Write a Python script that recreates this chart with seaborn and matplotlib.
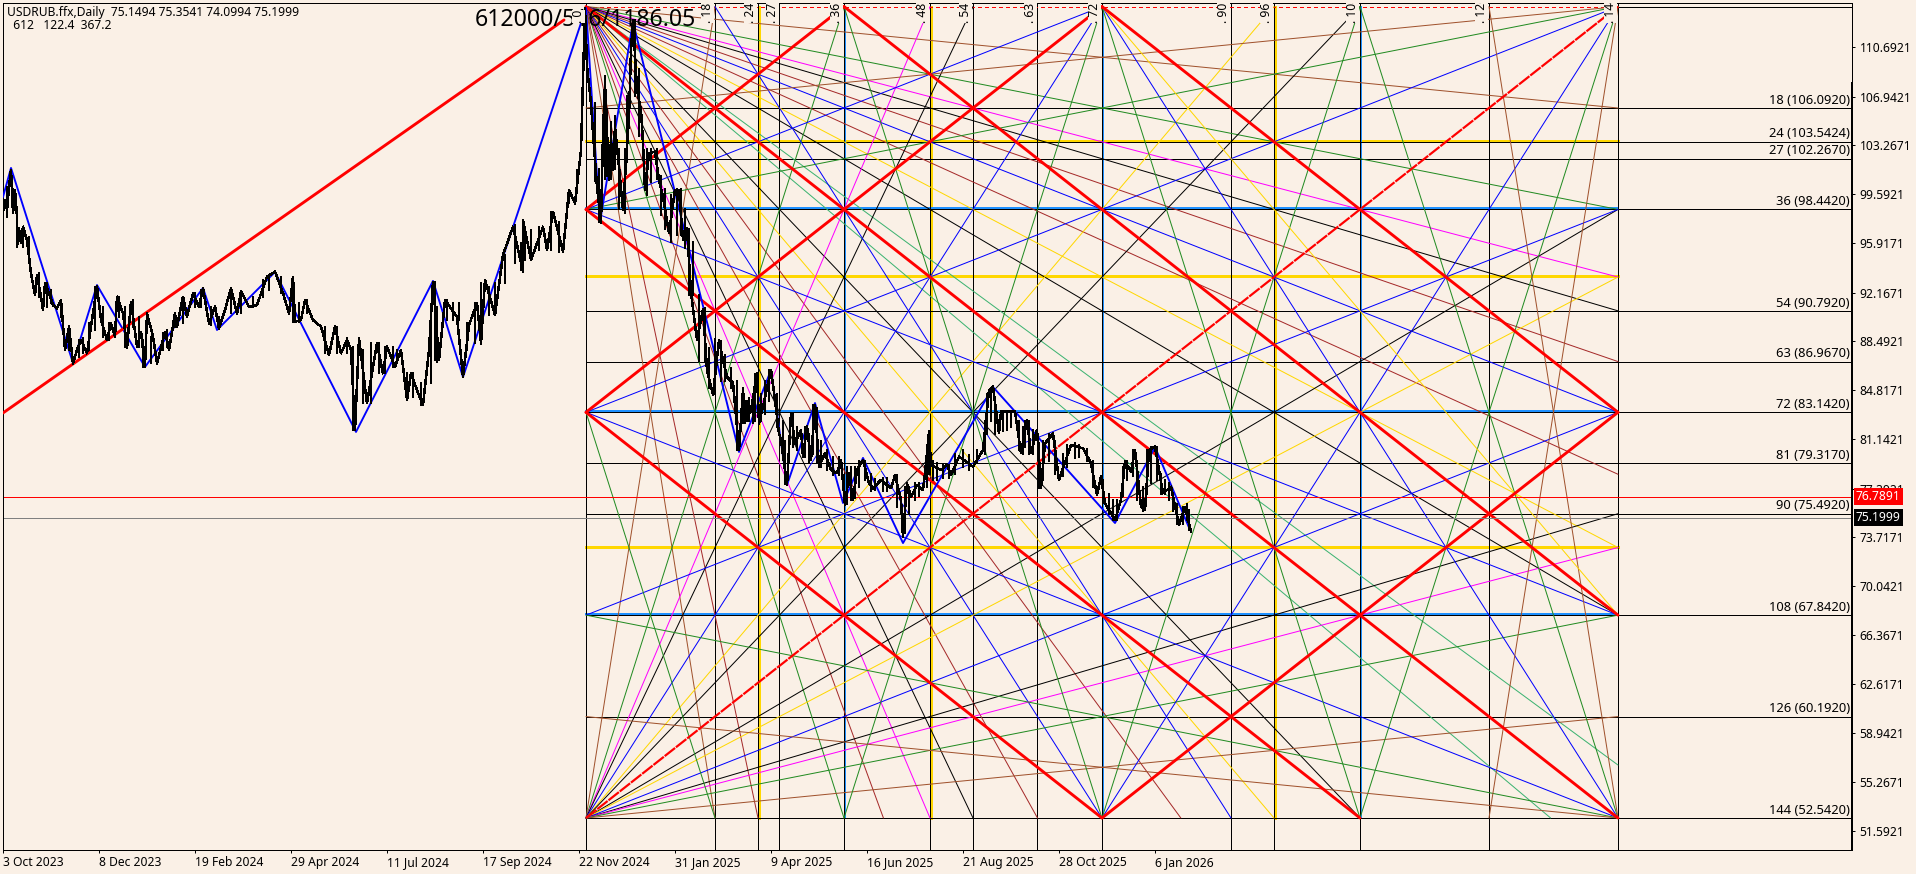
import matplotlib
matplotlib.use('Agg')
import pandas as pd
import matplotlib.pyplot as plt
import seaborn as sns

# chart values
date_ticks = [0, 48, 96, 144, 192, 240, 288, 336, 384, 432, 480, 528, 576]
date_labels = ['3 Oct 2023', '8 Dec 2023', '19 Feb 2024', '29 Apr 2024', '11 Jul 2024', '17 Sep 2024', '22 Nov 2024',
               '31 Jan 2025', '9 Apr 2025', '16 Jun 2025', '21 Aug 2025', '28 Oct 2025', '6 Jan 2026']
price_ticks = [110.6921, 106.9421, 103.2671, 99.5921, 95.9171, 92.1671, 88.4921, 84.8171, 81.1421,
               77.3921, 73.7171, 70.0421, 66.3671, 62.6171, 58.9421, 55.2671, 51.5921]

price_bars = [0, 1, 2, 3, 4, 5, 6, 7, 7, 8, 9, 10, 12, 14, 16, 17, 19, 20, 21, 23, 25, 27, 29, 31, 33, 35, 37, 39, 42, 44,
              47, 49, 52, 54, 56, 57, 60, 62, 64, 67, 69, 71, 72, 75, 77, 81, 83, 86, 87, 90, 92, 95, 98, 100, 103, 106,
              108, 111, 114, 117, 119, 123, 127, 132, 136, 140, 143, 145, 146, 149, 151, 155, 159, 163, 166, 169, 172,
              174, 176, 178, 182, 187, 190, 192, 196, 199, 202, 204, 207, 210, 213, 215, 218, 221, 227, 230, 233, 237,
              239, 241, 246, 250, 255, 260, 260, 264, 270, 272, 275, 280, 283, 286, 289, 291,
              292, 294, 295, 297, 299, 300, 301, 303, 304, 305, 306, 308, 310, 313, 314, 315, 317, 319, 320, 321, 323,
              326, 328, 330, 333, 336, 338, 340, 342, 344, 347, 350, 352, 355, 358, 360, 362, 365, 368,
              370, 371, 374, 377, 378, 380, 384, 386, 388, 389, 392, 394, 396, 399, 400, 402, 404, 406, 408, 411, 414,
              417, 419, 421, 423, 425, 427, 430, 433, 435, 439, 444, 446, 449, 450, 452, 454, 457, 460, 461, 463, 464,
              469, 472, 474, 478, 485, 490, 493, 495, 498, 499, 506, 509, 512, 514, 517, 519, 521, 525, 528, 534, 540,
              544, 547, 549, 551, 556, 559, 561, 564, 566, 569, 571, 573, 576, 580, 584, 588, 591, 594]
price_vals = [98.27, 99.15, 98.4, 100.16, 101.42, 98.15, 99.91, 97.9, 95.63, 97.02, 95.9, 97.14, 96.1, 93.62, 91.99, 93.5,
              91.86, 90.86, 92.87, 92.12, 91.23, 90.98, 91.61, 87.84, 89.6, 86.83, 87.84, 88.6, 87.59, 89.6,
              92.62, 90.1, 88.6, 89.85, 88.85, 91.86, 90.6, 87.97, 91.48, 88.09, 89.22, 86.58, 90.6, 88.85, 86.83, 89.22,
              87.84, 90.6, 89.6, 91.86, 90.35, 92.12, 91.11, 92.49, 89.85, 91.11,
              89.47, 90.86, 92.49, 90.6, 92.24, 91.11, 91.23, 93.37, 93.75, 92.12, 90.6, 93.37, 89.98, 90.1, 91.61, 90.1,
              89.6, 87.46, 89.6, 87.59, 88.6,
              87.84, 81.81, 88.72, 83.82, 88.34, 86.08, 88.09, 86.58, 87.84, 84.07, 86.08, 84.82, 83.69, 87.84, 92.99,
              87.09, 91.61, 90.35, 85.83, 89.73, 91.36,
              88.34, 93.12, 90.48, 95.0, 97.14, 93.75, 97.65, 94.63, 97.14, 95.38, 98.27, 95.26, 99.91, 98.9, 102.93, 113.62,
              109.21, 106.44, 104.18, 100.16, 97.4, 104.18, 107.95, 100.66, 103.68, 101.42, 104.69, 101.67, 98.4, 105.44,
              110.47, 112.73, 107.45, 105.94, 103.43, 99.91, 102.67,
              102.8, 100.66, 99.4, 96.64, 99.91, 99.91, 96.14, 97.0, 92.14, 88.6, 90.9, 86.33, 84.45, 88.6, 87.09, 85.8,
              85.35, 80.3,
              84.82, 82.56, 83.32, 86.08, 82.31, 83.57, 86.33, 84.07, 81.56, 81.05, 77.66, 83.06, 80.8, 81.81, 79.8, 82.06,
              79.54, 83.69, 79.04, 80.05, 78.79,
              78.54, 79.54, 76.15, 78.54, 76.53, 78.79, 79.54, 77.78, 77.41, 78.04, 77.41, 78.41, 76.53, 73.76, 77.78,
              76.78, 77.66, 77.28, 78.54, 81.68, 79.17,
              78.79, 79.17, 78.41, 79.8, 79.04, 80.3, 84.82, 85.08, 81.56, 83.19, 83.19, 80.05, 82.56, 80.05, 81.81, 77.41,
              80.8, 81.55, 78.04, 80.68, 80.42,
              79.3, 76.9, 78.29, 76.28, 75.02, 76.53, 79.42, 78.66, 80.3, 76.02, 75.77, 80.3, 80.55, 77.03, 77.53, 74.64,
              76.02, 74.14]

# daily range strokes that thicken the price path
range_bars = [2, 5, 10, 13, 18, 22, 24, 29, 33, 38, 40, 43, 46, 50, 53, 58, 61, 65, 68, 70, 74, 80, 82, 86, 90, 96, 99,
              104, 108, 114, 119, 125, 130, 133, 139, 145, 148, 152, 161, 167, 172, 175, 180, 184, 188, 191, 195, 197,
              202, 205, 209, 214, 216, 217, 222, 225, 228, 232, 236, 239, 243, 246, 251, 256, 259, 261, 264, 268, 274,
              278, 283, 287,
              296, 298, 301, 302, 304, 306, 308, 311, 312, 316, 318, 322, 324, 327, 329, 331, 334, 337, 339, 341, 343,
              345, 348, 351, 353, 356, 359, 361, 364, 367,
              370, 371, 372, 373, 375, 376, 379, 381, 383, 387, 390, 391, 395, 397, 401, 403, 405, 407, 409, 412, 415,
              418, 422, 424, 426, 428, 431, 434, 436, 440, 442, 447, 451, 453, 456, 458, 462, 463, 465, 467, 470, 473,
              476, 480, 483, 487, 491, 492, 494, 496, 500, 502, 504, 508, 510, 511, 513, 515, 518, 520, 523, 526, 530,
              532, 536, 538, 542, 545, 550, 553, 555, 557, 560, 562, 565, 567, 570, 572, 574, 577, 579, 581, 583, 585,
              587, 590, 592, 593]
range_lows = [97.9, 98.15, 95.6, 94.63, 91.86, 91.1, 91.36, 90.35, 87.84, 87.34, 87.59, 87.84, 89.35, 88.85, 88.6, 90.35,
              88.09, 89.6, 88.09, 86.58, 86.83, 87.84, 88.09, 89.6, 89.85, 91.1, 91.1,
              89.7, 89.47, 90.6, 90.6, 91.11, 91.86, 92.37, 92.12, 89.98, 89.98, 90.6, 87.59, 87.59, 87.59, 81.81, 83.82,
              83.82, 86.08, 86.08, 86.58, 86.83,
              84.07, 84.32, 83.69, 85.32, 87.09, 86.96, 90.1, 90.1, 90.1, 87.84, 88.34, 88.34, 90.48, 90.48, 92.87, 94.38,
              93.87, 94.63, 94.63, 95.38, 95.38,
              95.26, 98.9, 99.66,
              100.6, 97.5, 100.7, 101, 100.7, 101.5, 98.5, 98.2, 102, 107, 104, 99.5, 100.5, 100.7, 98, 97, 96, 96.5, 96.5,
              95.5, 92, 92, 87, 87, 85, 84.5, 85.5, 85.5, 85, 80.3,
              82.3, 82.3, 82.5, 82.5, 82.3, 82.5, 82.5, 83, 84, 82, 80, 77.7, 80.5, 80.3, 79.8, 79.3, 80, 79.3, 79, 78.8,
              78.4, 78.4, 76.2, 76.5, 76.7, 77.5, 78, 77.2, 77.3, 77.2, 77.2, 76, 74, 75.5, 76.5, 76.8, 77.5, 78.5, 78, 78,
              78.2, 78.2, 78.5, 79, 78.8, 79.3, 80, 81.5, 82.5, 81.5, 81.7, 81.8, 82, 80.3, 80, 80.5, 80, 80, 77.4, 78,
              79.5, 78.5, 78.3, 79, 79.7, 79.8, 79.5, 77.5, 76.3, 75.5, 75, 75, 76.8, 78, 78.3, 76.5, 75.7, 77, 77.8, 78,
              77, 77, 76.5, 75.7, 74.7, 74.7, 75, 74.3]
range_highs = [100.16, 100.0, 97.1, 96.4, 93.62, 92.87, 92.37, 91.61, 89.6, 88.6, 88.72, 89.85, 92.62, 91.1, 89.85, 91.86,
               91.1, 91.61, 90.35, 88.6, 88.85, 89.1, 89.35, 90.6, 91.86, 92.12, 92.37,
               91.1, 90.35, 92.49, 92.24, 91.86, 93.12, 93.37, 93.37, 93.37, 91.36, 91.61, 89.6, 89.6, 88.72, 88.09, 87.84,
               88.34, 88.34, 88.09, 88.09, 87.84,
               86.08, 86.08, 85.32, 89.85, 92.99, 91.11, 91.61, 91.36, 91.36, 89.85, 91.36, 92.87, 92.62, 92.87, 95.0, 97.27,
               95.88, 97.0, 96.9, 97.14, 98.27,
               97.52, 99.91, 101.42,
               106.5, 101.5, 108.5, 106, 105, 105.5, 103, 103, 107, 112.7, 109, 103, 103, 103, 101, 100, 99.5, 100, 100,
               98.5, 97, 96, 92, 91, 88, 88.7, 88.5, 87.5, 86.5, 85.5,
               85, 84, 84, 84.2, 84.3, 86, 84.5, 85.5, 86.3, 84.5, 82.5, 81, 83, 82, 82, 81.5, 83.7, 83.5, 81, 80.3,
               79.8, 79.8, 79, 79, 79, 79.5, 79.5, 78.5, 78.1, 78.2, 78.2, 78.4, 77.5, 77.5, 77.8, 77.8, 80.5, 81.7, 79.5,
               79.3, 79.2, 79.2, 80, 80.3, 79.9, 80.3, 82.5, 84.5, 85, 84, 83.2, 83.2, 83.2, 82.5, 82, 82.5, 82.5, 81.8,
               80.8, 81, 81.5, 81, 80, 80.7, 80.8, 80.7, 80.4, 79.5, 78, 77, 76.5, 76.5, 79, 79.5, 80.3, 79.5, 77.5, 80.3,
               80.5, 80.5, 78.5, 78, 77.8, 77, 76.2, 76, 76.2, 75.8]

zigzag_bars = [0, 4, 35, 47, 71, 100, 107, 136, 176.5, 215, 230, 291.5, 298.5, 315, 368, 384, 392, 406, 420, 430, 450,
               495, 556, 576, 593.5]
zigzag_vals = [99.38, 101.57, 86.86, 92.74, 86.56, 92.52, 89.35, 93.72, 81.66, 93.05, 85.8, 113.63, 97.5, 112.58, 80.15,
               86.33, 77.66, 83.84, 76.3, 79.7, 73.28, 85.05, 74.79, 80.52, 74.27]
trend_bars = [0, 280.5]
trend_vals = [83.09, 112.73]

# gann square: 144 units wide, one unit is 0.425 in price
gann_bar0 = 291.5
bars_per_unit = 3.5833
gann_top = 113.742
gann_step = 0.425

level_nums = [18, 24, 27, 36, 54, 63, 72, 81, 90, 108, 126, 144]
level_prices = [106.092, 103.5424, 102.267, 98.442, 90.792, 86.967, 83.142, 79.317, 75.492, 67.842, 60.192, 52.542]
level_labels = ['18 (106.0920)', '24 (103.5424)', '27 (102.2670)', '36 (98.4420)', '54 (90.7920)', '63 (86.9670)',
                '72 (83.1420)', '81 (79.3170)', '90 (75.4920)', '108 (67.8420)', '126 (60.1920)', '144 (52.5420)']
time_nums = [0, 18, 24, 27, 36, 48, 54, 63, 72, 90, 96, 108, 126, 144]
gold_nums = [24, 48, 96]
blue_nums = [36, 72, 108]

SIENNA, GREEN, DKBROWN, SEA = '#A0522D', '#228B22', '#A52A2A', '#3CB371'
BLUE, GOLD, SKY = '#0000FF', '#FFD700', '#1E90FF'

# corner fans, target number on the edge and its colour
tl_right = [18, 36, 48, 54, 63, 72, 83, 96, 108, 134.6]
tl_right_c = [SIENNA, GREEN, 'magenta', 'black', DKBROWN, BLUE, DKBROWN, GOLD, 'black', SEA]
tl_bottom = [18, 24, 36, 41.5, 48, 54, 63, 72, 83, 96, 108, 134.6]
tl_bottom_c = [SIENNA, DKBROWN, GREEN, DKBROWN, 'magenta', 'black', DKBROWN, BLUE, DKBROWN, GOLD, 'black', SEA]
bl_top = [18, 36, 48, 54, 72, 96, 108]
bl_top_c = [SIENNA, GREEN, 'magenta', 'black', BLUE, GOLD, 'black']
bl_right = [36, 48, 72, 90, 96, 108, 126]
bl_right_c = ['black', GOLD, BLUE, 'black', 'magenta', GREEN, SIENNA]

# other gann lines as (time, level, time, level)
blue_segs = [(18, 0, 90, 144), (72, 144, 144, 0), (72, 0, 144, 144), (0, 36, 144, 108), (0, 72, 144, 144),
             (0, 36, 72, 0), (0, 72, 144, 0), (0, 108, 144, 36)]
green_segs = [(36, 0, 72, 144), (72, 0, 108, 144), (108, 0, 144, 144), (36, 144, 72, 0), (72, 144, 108, 0),
              (108, 144, 144, 0), (0, 72, 18, 144), (0, 108, 144, 144), (0, 36, 144, 0)]
sienna_segs = [(0, 18, 144, 0), (0, 126, 144, 144), (126, 144, 144, 0), (126, 0, 144, 144)]
gold_segs = [(72, 0, 144, 108)]
red_segs = [(0, 0, 144, 144), (0, 36, 108, 144), (0, 72, 72, 144), (36, 0, 144, 108), (72, 0, 144, 72),
            (0, 36, 36, 0), (0, 72, 72, 0), (72, 144, 144, 72)]
red_dash_segs = [(0, 144, 144, 0)]

last_red = 76.7891
last_bid = 75.1999

BG = '#FAF0E6'
PX = 0.72  # one pixel in points at dpi 100
THIN = 0.72
FS = 8.7

sns.set_theme(style='white', rc={'figure.facecolor': BG, 'axes.facecolor': BG, 'axes.edgecolor': 'black',
                                 'axes.linewidth': PX, 'xtick.bottom': True, 'ytick.right': True, 'ytick.left': False,
                                 'xtick.major.size': 2.4, 'ytick.major.size': 2.4, 'xtick.major.width': PX,
                                 'ytick.major.width': PX, 'xtick.color': 'black', 'ytick.color': 'black',
                                 'xtick.major.pad': 2, 'ytick.major.pad': 3})
plt.rcParams['font.family'] = ['Noto Sans', 'DejaVu Sans']


def tx(t):
    return gann_bar0 + t * bars_per_unit


def ly(l):
    return gann_top - l * gann_step


def draw(segs, color, lw, ls='-', z=2, aa=False):
    # segs are already bar/price pairs, one row per end
    rows = []
    for i, (x0, y0, x1, y1) in enumerate(segs):
        rows.append({'bar': x0, 'price': y0, 'seg': i})
        rows.append({'bar': x1, 'price': y1, 'seg': i})
    sns.lineplot(data=pd.DataFrame(rows), x='bar', y='price', units='seg', estimator=None, sort=False, color=color,
                 linewidth=lw, linestyle=ls, zorder=z, legend=False, antialiased=aa, ax=ax, errorbar=None)


def gann(segs):
    return [(tx(a), ly(b), tx(c), ly(d)) for a, b, c, d in segs]


fig = plt.figure(figsize=(19.16, 8.74), dpi=100)
ax = fig.add_axes([2.5 / 1916, 1 - 850 / 874, (1852 - 2.5) / 1916, (850 - 2.5) / 874])

xmin, xmax = -0.25, 924.5
ymin, ymax = 50.128, 114.049

# big note sits over the lines but under the gann labels
ax.text(291, 112.72, '612000/516/1186.05', fontsize=16.6, ha='center', va='center', color='black', zorder=4.5)

# gold and blue grid first, black lines go over them
for n, c, w, dy in [(gold_nums, GOLD, 3, 0.05), (blue_nums, SKY, 1.9, 0.09)]:
    draw([(tx(k) + 0.5, ly(0), tx(k) + 0.5, ly(144)) for k in n], c, w * PX, z=1.7)
    draw([(tx(0), ly(k) + dy, tx(144), ly(k) + dy) for k in n], c, w * PX, z=1.7)

for t in time_nums:
    draw([(tx(t), ymin, tx(t), ymax)], 'black', PX, z=1.8)
for p in level_prices:
    draw([(tx(0), p, xmax, p)], 'black', PX, z=1.8)
draw([(tx(144), gann_top, xmax, gann_top)], 'black', PX, z=1.8)
draw([(tx(0), gann_top, tx(144), gann_top)], 'red', PX, ls=(0, (3, 3)), z=1.8)

for n, c in zip(tl_right, tl_right_c):
    draw(gann([(0, 0, 144, n)]), c, THIN, aa=True)
for n, c in zip(tl_bottom, tl_bottom_c):
    draw(gann([(0, 0, n, 144)]), c, THIN, aa=True)
for n, c in zip(bl_top, bl_top_c):
    draw(gann([(0, 144, n, 0)]), c, THIN, aa=True)
for n, c in zip(bl_right, bl_right_c):
    draw(gann([(0, 144, 144, n)]), c, THIN, aa=True)

draw(gann(blue_segs), BLUE, THIN, aa=True)
draw(gann(green_segs), GREEN, THIN, aa=True)
draw(gann(sienna_segs), SIENNA, THIN, aa=True)
draw(gann(gold_segs), GOLD, THIN, aa=True)
draw(gann(red_segs), 'red', 2.9 * PX, z=2.2, aa=True)
draw(gann(red_dash_segs), 'red', 2.2 * PX, ls=(0, (6, 0.5)), z=2.2, aa=True)

# price lines
draw([(xmin, last_red, xmax, last_red)], 'red', PX, z=2.3)
draw([(xmin, last_bid, xmax, last_bid)], '#808080', PX, z=2.3)

# zigzag, trend and the price itself
zz = pd.DataFrame({'bar': zigzag_bars, 'price': zigzag_vals})
sns.lineplot(data=zz, x='bar', y='price', sort=False, estimator=None, color=BLUE, linewidth=1.9 * PX, zorder=3, ax=ax)
tr = pd.DataFrame({'bar': trend_bars, 'price': trend_vals})
sns.lineplot(data=tr, x='bar', y='price', sort=False, estimator=None, color='red', linewidth=2.9 * PX, zorder=3, ax=ax)
px = pd.DataFrame({'bar': price_bars, 'price': price_vals})
sns.lineplot(data=px, x='bar', y='price', sort=False, estimator=None, color='black', linewidth=1.5 * PX, zorder=4, ax=ax, antialiased=False)
draw(list(zip(range_bars, range_lows, range_bars, range_highs)), 'black', 2 * PX, z=4)

# labels along the top, they blank out what passes behind them
for t in time_nums:
    ax.text(tx(t) - 0.4, ly(2.9), f'. {t}', rotation=90, ha='right', va='bottom', fontsize=FS, color='black', zorder=5,
            clip_on=True, bbox=dict(fc=BG, ec='none', pad=0))

for p, s in zip(level_prices, level_labels):
    ax.text(xmax - 1, p + 0.1, s, ha='right', va='bottom', fontsize=9.3, color='black', zorder=5)
ax.text(xmax - 1, gann_top + 0.1, '0 (113.7420)', ha='right', va='bottom', fontsize=9.3, color='black', zorder=5, clip_on=True)

ax.text(2.2, 113.3, 'USDRUB.ffx,Daily  75.1494 75.3541 74.0994 75.1999', ha='left', va='center', fontsize=FS, color='black', zorder=6)
ax.text(2.2, 112.3, '  612   122.4  367.2', ha='left', va='center', fontsize=FS, color='black', zorder=6)

ax.set_xlim(xmin, xmax)
ax.set_ylim(ymin, ymax)
ax.set_xlabel('')
ax.set_ylabel('')
ax.set_xticks(date_ticks)
ax.set_xticklabels(date_labels, ha='left', fontsize=FS)
ax.yaxis.tick_right()
ax.set_yticks(price_ticks)
ax.set_yticklabels([f'{v:.4f}' for v in price_ticks], fontsize=FS)

# heavy right border
ax.plot([xmax, xmax], [ymin, 107.98], color='black', lw=2 * PX, clip_on=False, zorder=6, antialiased=False)

# current price tags
for v, c in [(last_red, 'red'), (last_bid, 'black')]:
    ax.text(xmax + 2, v, f'{v:.4f}', ha='left', va='center', fontsize=FS, color='white', zorder=10, clip_on=False,
            bbox=dict(fc=c, ec='none', pad=1.6))

fig.savefig('out.png', dpi=100, facecolor=BG)
